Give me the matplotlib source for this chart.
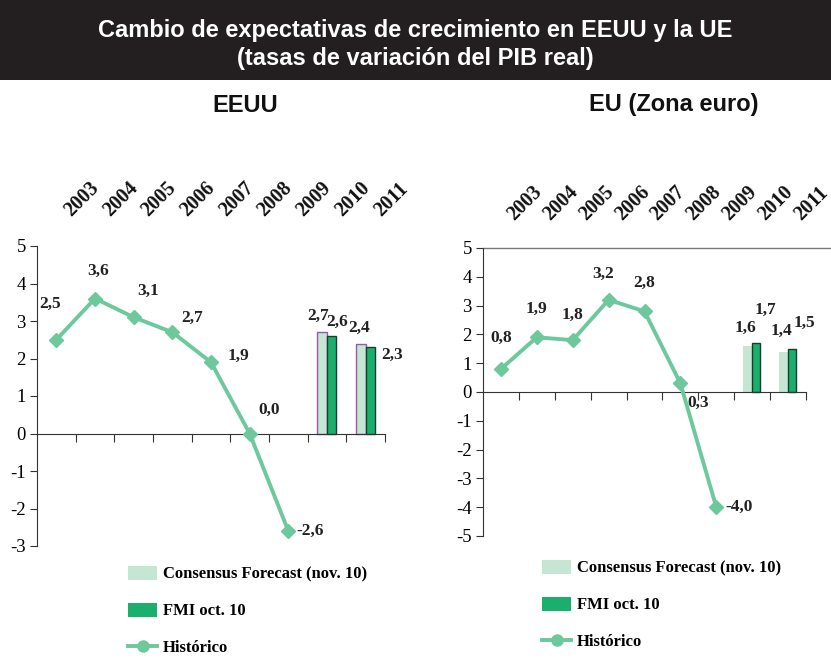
import numpy as np
import matplotlib.pyplot as plt
from matplotlib.patches import Rectangle, Patch
from matplotlib.lines import Line2D

plt.rcParams['axes.unicode_minus'] = False

years = ['2003', '2004', '2005', '2006', '2007', '2008', '2009', '2010', '2011']

# historic series 2003-2009, forecasts for 2010 and 2011
eeuu_hist = [2.5, 3.6, 3.1, 2.7, 1.9, 0.0, -2.6]
eeuu_consensus = [2.7, 2.4]
eeuu_fmi = [2.6, 2.3]

ue_hist = [0.8, 1.9, 1.8, 3.2, 2.8, 0.3, -4.0]
ue_consensus = [1.6, 1.4]
ue_fmi = [1.7, 1.5]

light = '#c4e6d3'
dark = '#1aaf6d'
line_col = '#6dc99b'
serif = 'Liberation Serif'
sans = 'Liberation Sans'


def fmt(v):
    return f'{v:.1f}'.replace('.', ',')


def draw_panel(ax, hist, cons, fmi, ylim, hist_off, bar_off, cons_edge):
    x_hist = np.arange(len(hist))
    x_fc = np.arange(len(hist), len(hist) + len(cons))
    ax.bar(x_fc - 0.25, cons, width=0.25, align='edge', color=light,
           edgecolor=cons_edge, linewidth=1 if cons_edge != 'none' else 0, zorder=2)
    ax.bar(x_fc, fmi, width=0.23, align='edge', color=dark,
           edgecolor='#1b3b2b', linewidth=1, zorder=2)
    ax.plot(x_hist, hist, color=line_col, lw=2.8, marker='D', ms=7, zorder=3)

    for x, v, off in zip(x_hist, hist, hist_off):
        ax.annotate(fmt(v), (x, v), xytext=off, textcoords='offset pixels',
                    ha='center', va='center', fontsize=12.5, fontweight='bold',
                    family=serif, color='#222222')
    bar_pts = []
    for x, c, f in zip(x_fc, cons, fmi):
        bar_pts += [(x - 0.125, c), (x + 0.115, f)]
    for (x, v), off in zip(bar_pts, bar_off):
        ax.annotate(fmt(v), (x, v), xytext=off, textcoords='offset pixels',
                    ha='center', va='center', fontsize=12.5, fontweight='bold',
                    family=serif, color='#222222')

    ax.set_xlim(-0.5, len(years) - 0.5)
    ax.set_ylim(*ylim)
    ax.set_yticks(range(ylim[0], ylim[1] + 1))
    ax.set_yticklabels([str(t) for t in range(ylim[0], ylim[1] + 1)],
                       family=serif, fontsize=13.5)
    ax.set_xticks(np.arange(len(years)) + 0.5)
    ax.set_xticklabels([])
    ax.tick_params(axis='x', direction='out', length=6, color='#333333')
    ax.tick_params(axis='y', direction='out', length=5, color='#333333', pad=3)
    for s in ['top', 'right']:
        ax.spines[s].set_visible(False)
    ax.spines['bottom'].set_position(('data', 0))
    ax.spines['bottom'].set_color('#333333')
    ax.spines['left'].set_color('#333333')

    for i, y in enumerate(years):
        ax.text(i + 0.66, 1.155, y, transform=ax.get_xaxis_transform(),
                rotation=45, ha='center', va='center', fontsize=14.5,
                fontweight='bold', family=serif, color='#111111')


fig = plt.figure(figsize=(8.31, 6.59), dpi=100)

fig.patches.append(Rectangle((0, 1 - 80 / 659), 1, 80 / 659, transform=fig.transFigure,
                             facecolor='#231f20', edgecolor='none', zorder=0))
fig.text(0.5, 1 - 30 / 659, 'Cambio de expectativas de crecimiento en EEUU y la UE',
         ha='center', va='center', color='white', fontsize=17,
         fontweight='bold', family=sans)
fig.text(0.5, 1 - 58 / 659, '(tasas de variación del PIB real)',
         ha='center', va='center', color='white', fontsize=17,
         fontweight='bold', family=sans)
fig.text(245 / 831, 1 - 105 / 659, 'EEUU', ha='center', va='center',
         fontsize=17, fontweight='bold', family=sans, color='#111111')
fig.text(674 / 831, 1 - 105 / 659, 'EU (Zona euro)', ha='center', va='center',
         fontsize=17, fontweight='bold', family=sans, color='#111111')

ax1 = fig.add_axes([37 / 831, 1 - 546 / 659, 348 / 831, 300 / 659])
draw_panel(ax1, eeuu_hist, eeuu_consensus, eeuu_fmi, (-3, 5),
           [(-6, 36), (3, 28), (14, 26), (20, 14), (27, 6), (19, 24), (22, 0)],
           [(-4, 16), (6, 14), (-2, 16), (22, -8)], '#9b57a8')

ax2 = fig.add_axes([483 / 831, 1 - 536 / 659, 323 / 831, 288 / 659])
draw_panel(ax2, ue_hist, ue_consensus, ue_fmi, (-5, 5),
           [(0, 31), (0, 28), (0, 25), (-5, 26), (0, 28), (18, -20), (23, 0)],
           [(-2, 18), (9, 33), (-2, 21), (12, 26)], 'none')
ax2.plot([0, 1.08], [1, 1], transform=ax2.transAxes, color='#777777',
         lw=1, clip_on=False)

handles = [Patch(facecolor=light, edgecolor='none'),
           Patch(facecolor=dark, edgecolor='none'),
           Line2D([], [], color=line_col, lw=2.8, marker='o', ms=8)]
labels = ['Consensus Forecast (nov. 10)', 'FMI oct. 10', 'Histórico']
for x0, y0 in [(113, 551), (527, 545)]:
    fig.legend(handles, labels, loc='upper left',
               bbox_to_anchor=(x0 / 831, 1 - y0 / 659), frameon=False,
               prop={'family': serif, 'weight': 'bold', 'size': 12},
               handlelength=1.75, handleheight=0.9, handletextpad=0.35,
               labelspacing=1.2)

fig.savefig('out.png', dpi=100)
